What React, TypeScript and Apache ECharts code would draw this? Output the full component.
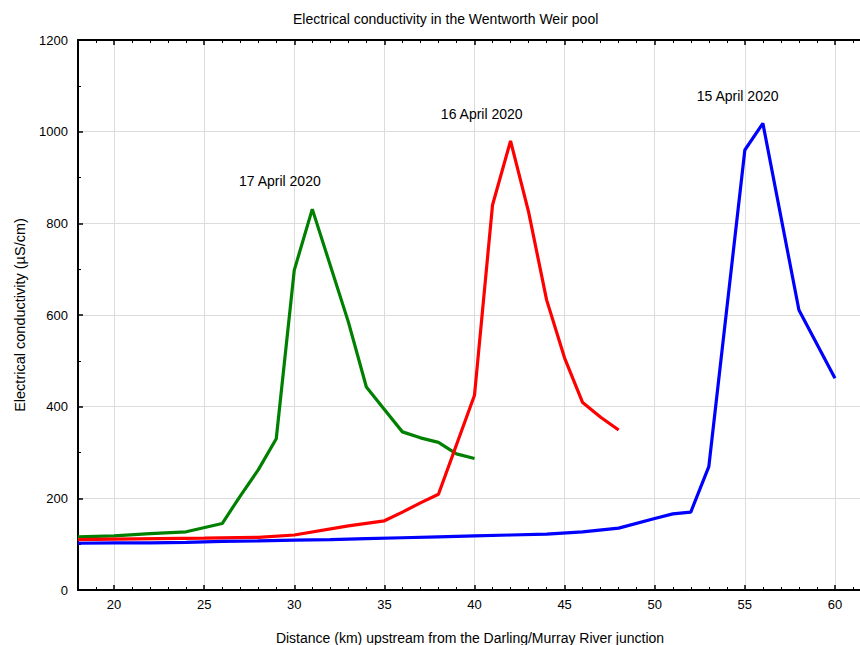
import React, { useEffect, useRef } from "react";
import * as echarts from "echarts";

// 17 April 2020
const greenDist = [18, 20, 22, 24, 26, 27, 28, 29, 30, 31, 33, 34, 35, 36, 37, 38, 39, 40];
const greenEC = [116, 118, 123, 127, 145, 205, 262, 330, 698, 831, 585, 443, 394, 345, 332, 322, 297, 287];
// 16 April 2020
const redDist = [18, 20, 25, 28, 30, 33, 35, 36, 37, 38, 40, 41, 42, 43, 44, 45, 46, 47, 48];
const redEC = [110, 111, 113, 115, 120, 140, 151, 170, 190, 209, 425, 840, 980, 825, 633, 506, 409, 377, 349];
// 15 April 2020
const blueDist = [18, 20, 22, 24, 26, 28, 30, 32, 34, 36, 38, 40, 42, 44, 46, 48, 50, 51, 52, 53, 55, 56, 58, 60];
const blueEC = [102, 103, 103, 104, 106, 107, 109, 110, 112, 114, 116, 118, 120, 122, 127, 135, 156, 166, 170, 269, 960, 1018, 611, 462];

const seriesNames = ["17 April 2020", "16 April 2020", "15 April 2020"];
const labelDist = [29.2, 40.4, 54.6];
const labelEC = [892, 1038, 1078];

const FONT = "Liberation Sans, Arial, sans-serif";

const zip = (xs: number[], ys: number[]) => xs.map((x, i) => [x, ys[i]]);

export default function App() {
  const ref = useRef<HTMLDivElement>(null);
  useEffect(() => {
    if (!ref.current) return;
    const chart = echarts.init(ref.current, undefined, { renderer: "svg" });
    const colors = ["#008000", "#ff0000", "#0000ff"];
    const datasets = [zip(greenDist, greenEC), zip(redDist, redEC), zip(blueDist, blueEC)];
    const xCommon = {
      type: "value",
      min: 18,
      max: 61.5,
      splitNumber: 9,
      axisLine: { show: true, lineStyle: { color: "#000", width: 2 } },
      axisTick: { show: true, inside: true, length: 5, lineStyle: { color: "#000", width: 1.5 } },
      minorTick: { show: true, splitNumber: 5, length: 3, lineStyle: { color: "#000", width: 1 } },
    };
    chart.setOption({
      animation: false,
      backgroundColor: "#fff",
      title: {
        text: "Electrical conductivity in the Wentworth Weir pool",
        left: 288,
        top: 7,
        textStyle: { fontFamily: FONT, fontSize: 14, fontWeight: "normal", color: "#000" },
      },
      grid: { left: 78, right: -2, top: 40, bottom: 55, outerBoundsMode: "none", containLabel: false },
      xAxis: [
        {
          ...xCommon,
          position: "bottom",
          name: "Distance (km) upstream from the Darling/Murray River junction",
          nameLocation: "middle",
          nameGap: 41,
          nameTextStyle: { fontFamily: FONT, fontSize: 14, color: "#000" },
          axisLabel: {
            color: "#000",
            fontFamily: FONT,
            fontSize: 13,
            margin: 8,
            showMinLabel: false,
            showMaxLabel: false,
            formatter: (v: number) => String(v),
          },
          splitLine: { show: true, lineStyle: { color: "#dcdcdc", width: 1 } },
        },
        {
          ...xCommon,
          position: "top",
          axisLabel: { show: false },
          splitLine: { show: false },
        },
      ],
      yAxis: {
        type: "value",
        min: 0,
        max: 1200,
        interval: 200,
        name: "Electrical conductivity (µS/cm)",
        nameLocation: "middle",
        nameGap: 51,
        nameTextStyle: { fontFamily: FONT, fontSize: 14.5, color: "#000" },
        axisLine: { show: true, lineStyle: { color: "#000", width: 2 } },
        axisTick: { show: true, inside: true, length: 5, lineStyle: { color: "#000", width: 1.5 } },
        minorTick: { show: true, splitNumber: 2, length: 3, lineStyle: { color: "#000", width: 1 } },
        axisLabel: {
          color: "#000",
          fontFamily: FONT,
          fontSize: 13,
          margin: 10,
          formatter: (v: number) => String(v),
        },
        splitLine: { show: true, lineStyle: { color: "#dcdcdc", width: 1 } },
      },
      series: datasets.map((d, i) => ({
        type: "line",
        name: seriesNames[i],
        data: d,
        showSymbol: false,
        symbol: "none",
        lineStyle: { color: colors[i], width: 3.2 },
        itemStyle: { color: colors[i] },
        z: 3 + i,
        markPoint: {
          symbol: "circle",
          symbolSize: 1,
          itemStyle: { color: "rgba(0,0,0,0)" },
          label: {
            show: true,
            position: "inside",
            formatter: "{b}",
            color: "#000",
            fontFamily: FONT,
            fontSize: 14,
          },
          data: [{ name: seriesNames[i], coord: [labelDist[i], labelEC[i]] }],
        },
      })),
    });
    return () => chart.dispose();
  }, []);
  return <div ref={ref} style={{ width: 860, height: 645, position: "absolute", left: 0, top: 0 }} />;
}
